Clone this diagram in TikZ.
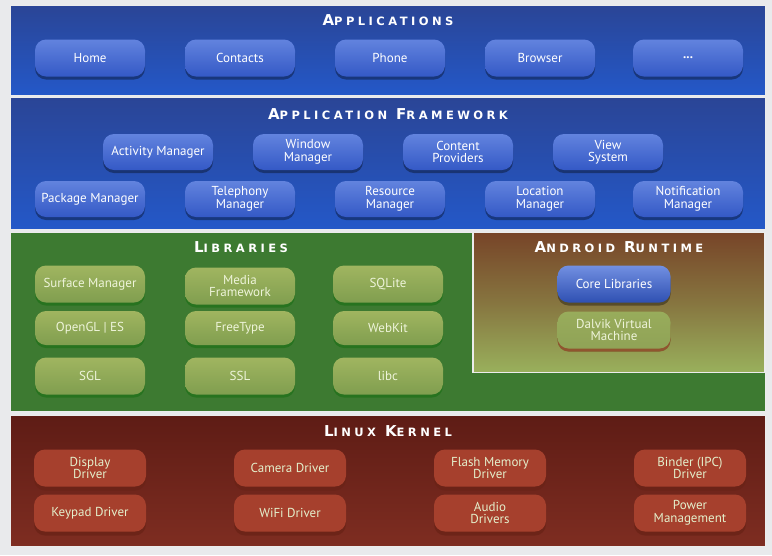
\documentclass[tikz,border=0pt]{standalone}
\usepackage{fontspec}
\setmainfont{PT Sans}
\newfontfamily\titlefont[LetterSpace=30]{DejaVu Sans Bold}
\usetikzlibrary{shadows}
\definecolor{pageBg}{HTML}{E9EAEC}
\definecolor{panTop}{HTML}{2A4596}
\definecolor{panBot}{HTML}{2458C8}
\definecolor{appTop}{HTML}{6283DE}
\definecolor{appBot}{HTML}{3459C6}
\definecolor{libBg}{HTML}{3D7A31}
\definecolor{libTop}{HTML}{A0B560}
\definecolor{libBot}{HTML}{809E4F}
\definecolor{rtTop}{HTML}{774428}
\definecolor{rtBot}{HTML}{99B05C}
\definecolor{krTop}{HTML}{5E1C15}
\definecolor{krBot}{HTML}{7E2D21}
\definecolor{krBox}{HTML}{A6402D}
\definecolor{krShade}{HTML}{6A2317}
\definecolor{libText}{HTML}{EEF4DA}
\definecolor{krText}{HTML}{E4F0CC}
\newcommand\ttl[2]{{\titlefont\fontsize{15}{15}\selectfont #1\fontsize{11.5}{15}\selectfont #2}}
\newcommand\tsp{\hspace{9pt}}
\tikzset{
  panel/.style={draw=white!85!gray, line width=0.8pt},
  title/.style={text=white, inner sep=0pt, anchor=center},
  box/.style={rounded corners=11pt, minimum width=110pt, minimum height=37pt,
    inner sep=0pt, align=center, font=\fontsize{13}{12.5}\selectfont},
  bluebox/.style={box, top color=appTop, bottom color=appBot, text=white,
    drop shadow={shadow xshift=0pt, shadow yshift=-3pt, fill=black, opacity=0.35}},
  libbox/.style={box, top color=libTop, bottom color=libBot, text=libText,
    drop shadow={shadow xshift=0pt, shadow yshift=-3pt, fill=black!60!green, opacity=0.35}},
  krbox/.style={box, minimum width=112pt, fill=krBox, text=krText,
    drop shadow={shadow xshift=0pt, shadow yshift=-4pt, fill=krShade, opacity=0.8}},
}
\begin{document}
\begin{tikzpicture}[x=1pt,y=-1pt]
\useasboundingbox (0,0) rectangle (772,555);
\fill[pageBg] (0,0) rectangle (772,555);
% panels
\shade[panel, top color=panTop, bottom color=panBot] (10,5) rectangle (765,95);
\shade[panel, top color=panTop, bottom color=panBot] (10,97) rectangle (765,229);
\fill[libBg] (10,232) rectangle (765,411);
\draw[panel] (10,232) rectangle (765,411);
\draw[panel, line width=0.6pt] (10,232) -- (472,232) -- (472,373);
\shade[panel, top color=rtTop, bottom color=rtBot, middle color=rtBot!45!rtTop] (473,232) rectangle (764,372);
\shade[panel, top color=krTop, bottom color=krBot] (10,415) rectangle (765,546);
% titles
\node[title] (tApps) at (388,20) {\ttl{A}{PPLICATIONS}};
\node[title] (tFw) at (388,114) {\ttl{A}{PPLICATION}\tsp\ttl{F}{RAMEWORK}};
\node[title] (tLib) at (241,247) {\ttl{L}{IBRARIES}};
\node[title] (tRt) at (619,247) {\ttl{A}{NDROID}\tsp\ttl{R}{UNTIME}};
\node[title] (tKr) at (388,431) {\ttl{L}{INUX}\tsp\ttl{K}{ERNEL}};
% applications
\node[bluebox] (home) at (90,58) {Home};
\node[bluebox] (contacts) at (240,58) {Contacts};
\node[bluebox] (phone) at (390,58) {Phone};
\node[bluebox] (browser) at (540,58) {Browser};
\node[bluebox] (dots) at (688,58) {\textbf{...}};
% framework
\node[bluebox, minimum height=36pt] (activity) at (158,152) {Activity Manager};
\node[bluebox, minimum height=36pt] (window) at (308,152) {Window\\Manager};
\node[bluebox, minimum height=36pt] (content) at (458,152) {Content\\Providers};
\node[bluebox, minimum height=36pt] (view) at (608,152) {View\\System};
\node[bluebox, minimum height=36pt] (package) at (90,199) {Package Manager};
\node[bluebox, minimum height=36pt] (telephony) at (240,199) {Telephony\\Manager};
\node[bluebox, minimum height=36pt] (resource) at (390,199) {Resource\\Manager};
\node[bluebox, minimum height=36pt] (location) at (540,199) {Location\\Manager};
\node[bluebox, minimum height=36pt] (notification) at (688,199) {Notification\\Manager};
% libraries
\node[libbox] (surface) at (90,284) {Surface Manager};
\node[libbox] (media) at (240,286) {Media\\Framework};
\node[libbox] (sqlite) at (388,284) {SQLite};
\node[libbox, minimum height=34pt] (opengl) at (90,328) {OpenGL | ES};
\node[libbox, minimum height=34pt] (freetype) at (240,328) {FreeType};
\node[libbox, minimum height=34pt] (webkit) at (388,328) {WebKit};
\node[libbox] (sgl) at (90,376) {SGL};
\node[libbox] (ssl) at (240,376) {SSL};
\node[libbox] (libc) at (388,376) {libc};
% runtime
\node[bluebox, minimum width=113pt, top color=appTop!90!white, bottom color=appBot!90!black] (core) at (614,284) {Core Libraries};
\node[libbox, minimum width=113pt, drop shadow={shadow xshift=0pt, shadow yshift=-3pt, fill=krBox, opacity=0.7}, top color=libTop!95!black, bottom color=libTop!90!black] (dalvik) at (614,330) {Dalvik Virtual\\Machine};
% kernel
\node[krbox] (display) at (90,468) {Display\\Driver};
\node[krbox] (camera) at (290,468) {Camera Driver};
\node[krbox] (flash) at (490,468) {Flash Memory\\Driver};
\node[krbox] (binder) at (690,468) {Binder (IPC)\\Driver};
\node[krbox] (keypad) at (90,513) {Keypad Driver};
\node[krbox] (wifi) at (290,513) {WiFi Driver};
\node[krbox] (audio) at (490,513) {Audio\\Drivers};
\node[krbox] (power) at (690,513) {Power\\Management};
\end{tikzpicture}
\end{document}
